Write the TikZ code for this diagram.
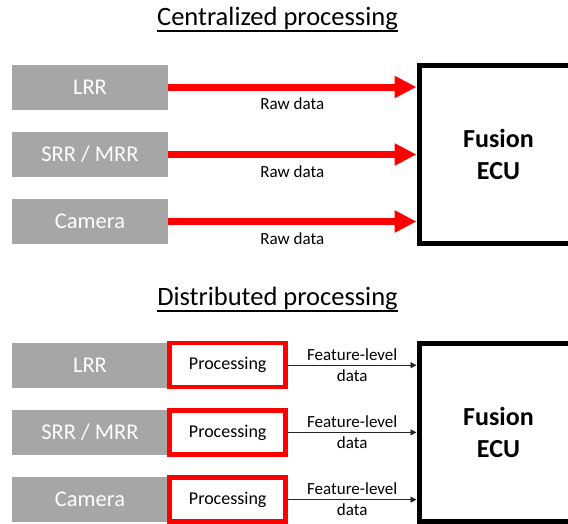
\documentclass[tikz,border=0pt]{standalone}
\usepackage{fontspec}
\setmainfont{Carlito}
\usetikzlibrary{arrows.meta}
\definecolor{sensorgray}{HTML}{A6A6A6}
\definecolor{procred}{HTML}{FF0000}
\begin{document}
\begin{tikzpicture}[x=1pt,y=-1pt,
  sensor/.style={fill=sensorgray,draw=none,minimum width=156pt,minimum height=45pt,
    inner sep=0pt,text=white,font=\fontsize{22.5}{26}\selectfont},
  procbox/.style={draw=procred,line width=4.5pt,fill=white,minimum width=116pt,
    minimum height=44pt,inner sep=0pt,font=\fontsize{18}{21}\selectfont},
  ecu/.style={draw=black,line width=5pt,fill=white,minimum width=159pt,
    inner sep=0pt,align=center,font=\fontsize{26}{32}\selectfont\bfseries},
  heading/.style={inner sep=0pt,font=\fontsize{26.5}{30}\selectfont},
  rawarrow/.style={draw=procred,line width=7pt,-{Triangle[length=22pt,width=21pt]}},
  featarrow/.style={draw=black!85,line width=0.9pt,-{Triangle[length=6pt,width=6pt]}},
  lbl/.style={inner sep=0pt,font=\fontsize{17}{20}\selectfont},
]
\useasboundingbox (0,0) rectangle (568,523);
\clip (0,0) rectangle (568,523);
\fill[white] (0,0) rectangle (568,523);

% ---- centralized processing ----
\node[heading,anchor=base] (t1) at (277.5,25) {Centralized processing};
\draw[line width=1.3pt] ([yshift=-6pt]t1.base west) -- ([yshift=-6pt]t1.base east);

\node[sensor] (c1) at (90,87) {LRR};
\node[sensor] (c2) at (90,154.5) {SRR / MRR};
\node[sensor] (c3) at (90,221.5) {Camera};
\node[ecu,minimum height=178pt] (f1) at (498.5,154) {Fusion\\ECU};

\foreach \s in {1,2,3}{
  \coordinate (ct\s) at (f1.west |- c\s.east);
  \draw[rawarrow] (c\s.east) -- (ct\s)
    node[lbl,midway,yshift=-17pt] {Raw data};
}

% ---- distributed processing ----
\node[heading,anchor=base] (t2) at (277.5,305) {Distributed processing};
\draw[line width=1.3pt] ([yshift=-6pt]t2.base west) -- ([yshift=-6pt]t2.base east);

\node[sensor] (d1) at (90,365) {LRR};
\node[sensor] (d2) at (90,432.5) {SRR / MRR};
\node[sensor] (d3) at (90,499.5) {Camera};
\node[procbox] (p1) at (227.7,365.2) {Processing};
\node[procbox] (p2) at (227.7,432.4) {Processing};
\node[procbox] (p3) at (227.7,499.6) {Processing};
\node[ecu,minimum height=177.5pt] (f2) at (498.5,432.25) {Fusion\\ECU};

\foreach \s in {1,2,3}{
  \coordinate (dt\s) at (f2.west |- p\s.east);
  \draw[featarrow] (p\s.east) -- (dt\s)
    node[lbl,midway,yshift=10.5pt] {Feature-level}
    node[lbl,midway,yshift=-10pt] {data};
}
\end{tikzpicture}
\end{document}
